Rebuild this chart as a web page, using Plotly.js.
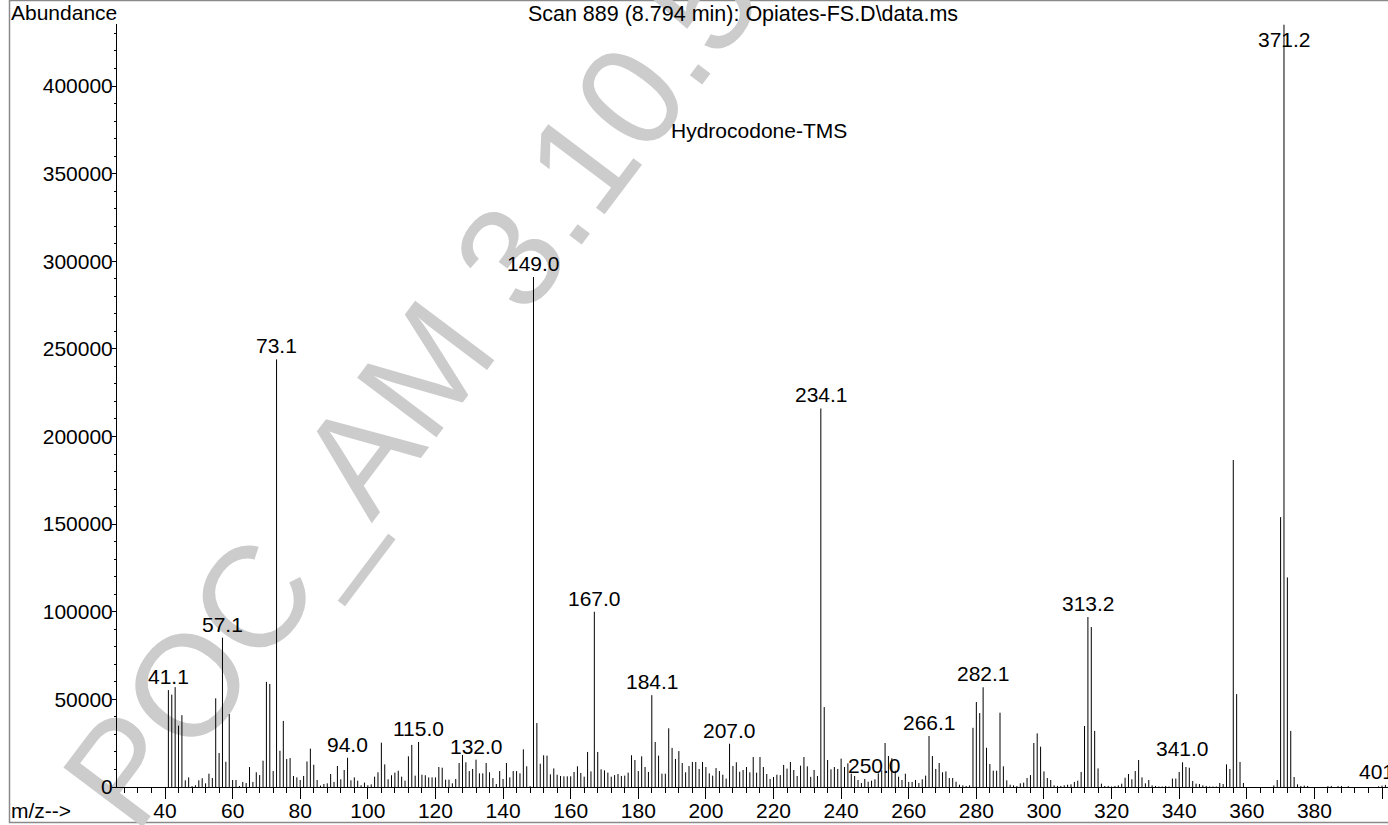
<!DOCTYPE html>
<html><head><meta charset="utf-8">
<script src="https://cdn.plot.ly/plotly-3.0.1.min.js"></script>
<style>html,body{margin:0;padding:0;background:#fff}#chart{width:1388px;height:825px}</style>
</head><body><div id="chart"></div>
<script>
// ---- data (m/z and abundance) ----
const mz = [
 41,42,43,44,45,46,47,48,49,50,
 51,52,53,54,55,56,57,58,59,60,
 61,62,63,64,65,66,67,68,69,70,
 71,72,73,74,75,76,77,78,79,80,
 81,82,83,84,85,86,87,88,89,90,
 91,92,93,94,95,96,97,98,99,100,
 101,102,103,104,105,106,107,108,109,110,
 111,112,113,114,115,116,117,118,119,120,
 121,122,123,124,125,126,127,128,129,130,
 131,132,133,134,135,136,137,138,139,140,
 141,142,143,144,145,146,147,148,149,150,
 151,152,153,154,155,156,157,158,159,160,
 161,162,163,164,165,166,167,168,169,170,
 171,172,173,174,175,176,177,178,179,180,
 181,182,183,184,185,186,187,188,189,190,
 191,192,193,194,195,196,197,198,199,200,
 201,202,203,204,205,206,207,208,209,210,
 211,212,213,214,215,216,217,218,219,220,
 221,222,223,224,225,226,227,228,229,230,
 231,232,233,234,235,236,237,238,239,240,
 241,242,243,244,245,246,247,248,249,250,
 251,252,253,254,255,256,257,258,259,260,
 261,262,263,264,265,266,267,268,269,270,
 271,272,273,274,275,276,277,278,279,280,
 281,282,283,284,285,286,287,288,289,290,
 291,292,293,294,295,296,297,298,299,300,
 301,302,303,304,305,306,307,308,309,310,
 311,312,313,314,315,316,317,318,319,320,
 321,322,323,324,325,326,327,328,329,330,
 331,332,333,334,335,336,337,338,339,340,
 341,342,343,344,345,346,347,348,349,350,
 351,352,353,354,355,356,357,358,359,
 368,369,370,371,372,373,374,375,376,377,378,
 384,385,387,388,390,399,400,401
];
const abundance = [
 55300,52700,57000,35000,41000,3800,5500,500,1000,3800,
 5000,2100,7600,5100,50600,19400,85200,14400,41600,4000,
 4000,600,2900,2300,11400,2900,8400,6800,15000,60000,
 58800,9100,244000,20700,37700,16000,16500,6300,5500,4000,
 6300,14600,21900,12700,4000,800,1700,2100,7400,2900,
 12000,4400,9700,16700,3800,5500,3600,950,2500,1000,
 1500,5900,8400,25300,12900,4400,6700,8200,9300,5900,
 3600,17500,24000,6500,25700,7000,6700,5500,5500,5500,
 11400,11000,4200,4200,2100,4600,13700,18300,14100,9100,
 10300,15600,7800,7800,13700,8400,5100,1700,9100,4600,
 13700,5500,9100,9100,7800,21500,11800,500,291000,36500,
 13300,18100,17900,7200,10600,7000,6300,6100,6100,6100,
 8600,11800,8000,5900,20000,8900,100000,20000,10100,9500,
 8200,5900,6800,7400,6300,6500,8200,18100,15400,9100,
 17500,11400,8600,52400,25700,17900,7600,7600,33500,22300,
 16000,20500,13700,8400,12000,14300,14300,10300,14300,11400,
 7800,6500,10800,9100,7000,4800,24700,12000,14100,8700,
 9700,11400,8400,17100,8200,17100,11400,7400,4600,5700,
 7000,6800,12600,10500,14300,9700,6300,12200,17100,11800,
 5800,9700,6300,216000,45600,15400,10100,11400,10300,16200,
 11400,13500,7600,6300,4000,2300,4600,3000,3600,4400,
 7800,9500,25100,17700,16400,9300,5900,4000,7600,2900,
 2900,4000,2300,4400,6500,29100,17700,10300,13700,8400,
 8900,5100,5100,3000,1300,950,600,950,33800,48500,
 42200,56900,22400,13100,9300,9300,42400,11800,3800,1300,
 950,600,2100,2500,5100,6800,25100,30600,23000,8900,
 5100,4000,950,600,600,950,1300,1500,2900,3600,
 8600,34800,97000,91300,32000,10600,1900,600,600,300,
 600,950,1900,5300,7400,4400,9100,15400,5500,2100,
 4000,950,600,300,300,600,300,4800,4800,8600,
 14100,11400,11000,3400,1900,1700,950,600,300,300,
 300,2300,1700,12900,10300,186600,53000,14300,2300,
 950,4000,154000,435000,119600,32000,5700,1500,600,800,600,
 500,600,500,600,500,400,800,1200
];
const peakLabels = ["41.1","57.1","73.1","94.0","115.0","132.0","149.0","167.0","184.1",
  "207.0","234.1","250.0","266.1","282.1","313.2","341.0","371.2","401.0"];
const chartTitle = "Scan 889 (8.794 min): Opiates-FS.D\\data.ms";
const compoundName = "Hydrocodone-TMS";
const yAxisName = "Abundance";
const xAxisName = "m/z-->";
const watermarkText = "POC_AM 3.10.5";

// ---- layout constants ----
const W = 1388, H = 825;
const ML = 117, MT = 24, MB = 38, MR = 0;
const PW = W - ML - MR, PH = H - MT - MB;
const X_RANGE = [25.8, 401.77];
const Y_MAX = 435400;
const FONT = "Liberation Sans, Arial, Helvetica, sans-serif";
const px2x = p => (p - ML) / PW;
const py2y = p => (H - MB - p) / PH;

// stick spectrum built from the arrays
const sx = [], sy = [];
mz.forEach((m, i) => { sx.push(m, m, null); sy.push(0, abundance[i], null); });

const annotations = [];
annotations.push({
  text: watermarkText, xref: 'paper', yref: 'paper', x: px2x(411), y: py2y(388),
  xanchor: 'center', yanchor: 'middle', showarrow: false, textangle: -53,
  font: { family: FONT, size: 144, color: '#cccccc' }
});
peakLabels.forEach(lbl => {
  const m = parseFloat(lbl);
  const idx = mz.indexOf(Math.round(m));
  const v = idx >= 0 ? abundance[idx] : 0;
  const clamp = v > 0.9 * Y_MAX;
  annotations.push({
    text: lbl, x: m, y: clamp ? Y_MAX : v, xref: 'x', yref: 'y',
    xanchor: 'center', yanchor: clamp ? 'top' : 'bottom', yshift: clamp ? -2 : 0,
    showarrow: false, font: { family: FONT, size: 21, color: '#000' }
  });
});
annotations.push({ text: compoundName, xref: 'paper', yref: 'paper', x: px2x(759), y: py2y(130),
  xanchor: 'center', yanchor: 'middle', showarrow: false, font: { family: FONT, size: 21, color: '#000' } });
annotations.push({ text: yAxisName, xref: 'paper', yref: 'paper', x: px2x(9), y: py2y(13),
  xanchor: 'left', yanchor: 'middle', showarrow: false, font: { family: FONT, size: 21, color: '#000' } });
annotations.push({ text: xAxisName, xref: 'paper', yref: 'paper', x: px2x(9), y: py2y(810),
  xanchor: 'left', yanchor: 'middle', showarrow: false, font: { family: FONT, size: 21, color: '#000' } });

const trace = {
  type: 'scatter', mode: 'lines', x: sx, y: sy, connectgaps: false,
  line: { color: '#000', width: 1 }, hoverinfo: 'skip', showlegend: false
};

const layout = {
  width: W, height: H,
  margin: { l: ML, r: MR, t: MT, b: MB, pad: 0 },
  paper_bgcolor: '#fff', plot_bgcolor: '#fff',
  font: { family: FONT, size: 21, color: '#000' },
  showlegend: false,
  title: { text: chartTitle, font: { family: FONT, size: 21.5, color: '#000' },
    xref: 'container', yref: 'container', x: 743 / W, y: 1 - 13 / H, xanchor: 'center', yanchor: 'middle' },
  xaxis: {
    range: X_RANGE, showline: true, linecolor: '#000', linewidth: 1,
    ticks: 'outside', ticklen: 11, tickwidth: 1, tickcolor: '#000',
    tickmode: 'linear', tick0: 0, dtick: 20, ticklabelstandoff: -6,
    tickfont: { family: FONT, size: 21, color: '#000' },
    showgrid: false, zeroline: false, fixedrange: true,
    minor: { ticks: 'outside', ticklen: 5, tickwidth: 1, tickcolor: '#000', tickmode: 'linear', tick0: 0, dtick: 4, showgrid: false }
  },
  yaxis: {
    range: [0, Y_MAX], showline: true, linecolor: '#000', linewidth: 1,
    ticks: 'outside', ticklen: 4, tickwidth: 1, tickcolor: '#000',
    tickmode: 'linear', tick0: 0, dtick: 50000, tickformat: 'd', ticklabelstandoff: -5,
    tickfont: { family: FONT, size: 21, color: '#000' },
    showgrid: false, zeroline: false, fixedrange: true,
    minor: { ticks: 'outside', ticklen: 2, tickwidth: 1, tickcolor: '#000', tickmode: 'linear', tick0: 0, dtick: 10000, showgrid: false }
  },
  shapes: [{
    type: 'rect', xref: 'paper', yref: 'paper', layer: 'below',
    x0: px2x(9.5), x1: px2x(1400), y0: py2y(822.5), y1: py2y(0.5),
    line: { color: '#8a8a8a', width: 1.5 }, fillcolor: 'rgba(0,0,0,0)'
  }],
  annotations: annotations
};

Plotly.newPlot('chart', [trace], layout, { staticPlot: true, displayModeBar: false }).then(gd => {
  // put the watermark behind the spectrum, as in the original printout
  const wm = gd.querySelector('.infolayer .annotation[data-index="0"]');
  const below = gd.querySelector('.main-svg .layer-below');
  if (wm && below) below.appendChild(wm);
});
</script>
</body></html>
